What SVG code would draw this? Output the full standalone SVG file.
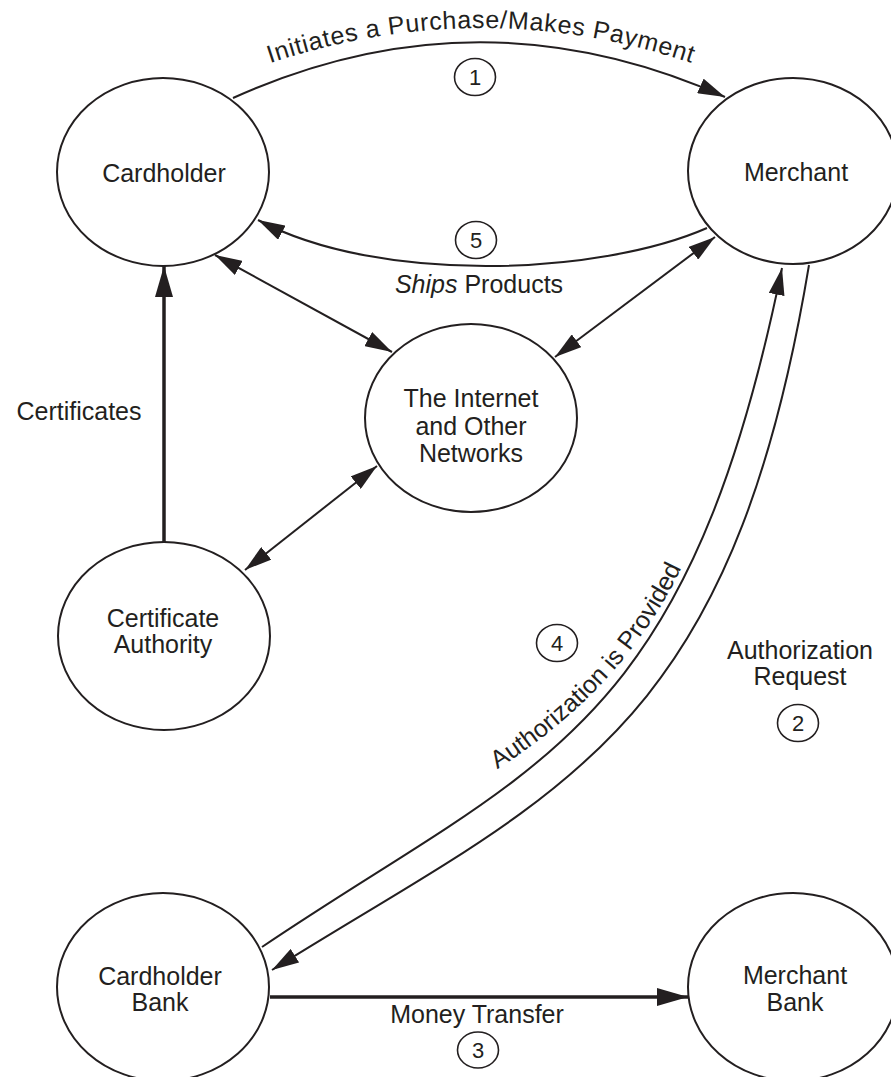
<svg xmlns="http://www.w3.org/2000/svg" width="891" height="1077" viewBox="0 0 891 1077">
  <style>
    .node ellipse { fill: #ffffff; stroke: #231f20; stroke-width: 2; }
    .lbl { font-family: "Liberation Sans", Arial, Helvetica, sans-serif; font-size: 25px; fill: #231f20; text-anchor: middle; }
    .step ellipse { fill: none; stroke: #231f20; stroke-width: 1.6; }
    .step text { font-family: "Liberation Sans", Arial, Helvetica, sans-serif; font-size: 22px; fill: #231f20; text-anchor: middle; }
    .edge { fill: none; stroke: #231f20; stroke-width: 2; }
    .thick { stroke-width: 3.5; }
  </style>
  <defs>
    <marker id="ah" markerUnits="userSpaceOnUse" viewBox="0 0 27 16" refX="27" refY="8" markerWidth="27" markerHeight="16" orient="auto-start-reverse">
      <path d="M0,0 L27,8 L0,16 z" fill="#231f20"/>
    </marker>
    <marker id="ahb" markerUnits="userSpaceOnUse" viewBox="0 0 31 18" refX="31" refY="9" markerWidth="31" markerHeight="18" orient="auto-start-reverse">
      <path d="M0,0 L31,9 L0,18 z" fill="#231f20"/>
    </marker>
    <path id="p-top" d="M262,66 Q482,-10 700,66"/>
    <path id="p-auth" d="M502,766 Q622,688 679,573"/>
  </defs>

  <!-- connectors -->
  <g id="connectors">
    <!-- 1: purchase / payment -->
    <path class="edge" d="M233,98 Q479,-13 725,97" marker-end="url(#ah)"/>
    <!-- 5: products shipped -->
    <path class="edge" d="M707,228 C600,275 380,285 258,220" marker-end="url(#ah)"/>
    <!-- network links -->
    <line class="edge" x1="215" y1="255" x2="392" y2="352" marker-start="url(#ah)" marker-end="url(#ah)"/>
    <line class="edge" x1="715" y1="237" x2="555" y2="357" marker-start="url(#ah)" marker-end="url(#ah)"/>
    <line class="edge" x1="245" y1="570" x2="377" y2="466" marker-start="url(#ah)" marker-end="url(#ah)"/>
    <!-- certificates -->
    <line class="edge thick" x1="164" y1="542" x2="164" y2="266" marker-end="url(#ahb)"/>
    <!-- 4: authorization provided -->
    <path class="edge" d="M262,947 C536,762 686,738 782,268" marker-end="url(#ah)"/>
    <!-- 2: authorization request -->
    <path class="edge" d="M809,265 C730,740 560,790 272,970" marker-end="url(#ah)"/>
    <!-- 3: money transfer -->
    <line class="edge thick" x1="270" y1="997" x2="688" y2="997" marker-end="url(#ahb)"/>
  </g>

  <!-- connector labels -->
  <g id="edge-labels">
    <text class="lbl" letter-spacing="0.7"><textPath href="#p-top" startOffset="50%">Initiates a Purchase/Makes Payment</textPath></text>
    <text class="lbl" x="479" y="293"><tspan font-style="italic">Ships</tspan> Products</text>
    <text class="lbl" x="79" y="420">Certificates</text>
    <text class="lbl" font-size="24.5"><textPath href="#p-auth" startOffset="50%">Authorization is Provided</textPath></text>
    <text class="lbl" x="800" y="659">Authorization</text>
    <text class="lbl" x="800" y="685">Request</text>
    <text class="lbl" x="477" y="1023">Money Transfer</text>
  </g>

  <!-- step markers -->
  <g id="step-1" class="step"><ellipse cx="475" cy="77" rx="20.5" ry="18.5"/><text x="475" y="85">1</text></g>
  <g id="step-5" class="step"><ellipse cx="476" cy="240" rx="20.5" ry="18.5"/><text x="476" y="248">5</text></g>
  <g id="step-4" class="step"><ellipse cx="557" cy="643" rx="20.5" ry="18.5"/><text x="557" y="651">4</text></g>
  <g id="step-2" class="step"><ellipse cx="798" cy="723" rx="20.5" ry="18.5"/><text x="798" y="731">2</text></g>
  <g id="step-3" class="step"><ellipse cx="478" cy="1050" rx="20.5" ry="18"/><text x="478" y="1058">3</text></g>

  <!-- nodes -->
  <g id="cardholder" class="node">
    <ellipse cx="163" cy="172" rx="106" ry="94"/>
    <text class="lbl" x="164" y="182">Cardholder</text>
  </g>
  <g id="merchant" class="node">
    <ellipse cx="793" cy="171" rx="105" ry="93"/>
    <text class="lbl" x="796" y="181">Merchant</text>
  </g>
  <g id="internet" class="node">
    <ellipse cx="471" cy="418" rx="106" ry="94"/>
    <text class="lbl" x="471" y="407">The Internet</text>
    <text class="lbl" x="471" y="435">and Other</text>
    <text class="lbl" x="471" y="462">Networks</text>
  </g>
  <g id="certificate-authority" class="node">
    <ellipse cx="164" cy="636" rx="106" ry="94"/>
    <text class="lbl" x="163" y="627">Certificate</text>
    <text class="lbl" x="163" y="653">Authority</text>
  </g>
  <g id="cardholder-bank" class="node">
    <ellipse cx="163" cy="987" rx="106" ry="94"/>
    <text class="lbl" x="160" y="985">Cardholder</text>
    <text class="lbl" x="160" y="1011">Bank</text>
  </g>
  <g id="merchant-bank" class="node">
    <ellipse cx="793" cy="987" rx="105" ry="94"/>
    <text class="lbl" x="795" y="984">Merchant</text>
    <text class="lbl" x="795" y="1011">Bank</text>
  </g>
</svg>
